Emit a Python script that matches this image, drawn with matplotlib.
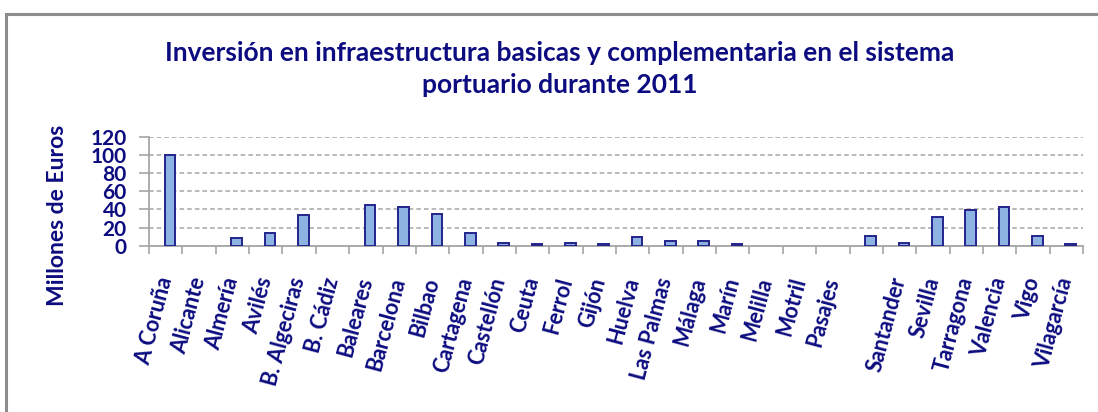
import matplotlib.pyplot as plt
import numpy as np
from matplotlib.patches import Rectangle

puertos = ['A Coruña', 'Alicante', 'Almería', 'Avilés', 'B. Algeciras', 'B. Cádiz',
           'Baleares', 'Barcelona', 'Bilbao', 'Cartagena', 'Castellón', 'Ceuta',
           'Ferrol', 'Gijón', 'Huelva', 'Las Palmas', 'Málaga', 'Marín', 'Melilla',
           'Motril', 'Pasajes', '', 'Santander', 'Sevilla', 'Tarragona', 'Valencia',
           'Vigo', 'Vilagarcía']
inversion = [100, 0, 8.5, 14, 34, 0,
             45, 42.3, 35.2, 14, 2.6, 1.5,
             2.6, 1.5, 10, 5.5, 5.5, 1.5, 0,
             0, 0, 11, 2.6, 31.2, 39.3, 42.3,
             11, 1.5]
y_ticks = [0, 20, 40, 60, 80, 100, 120]

navy = '#0C0C80'
plt.rcParams['font.family'] = ['Lato', 'DejaVu Sans']
plt.rcParams['font.weight'] = 'bold'

fig = plt.figure(figsize=(10.98, 4.12), dpi=100)
fig.patches.append(Rectangle((6 / 1098, -0.1), 1.2, (412 - 14) / 412 + 0.1,
                             transform=fig.transFigure, fill=False,
                             edgecolor='#8C8C8C', linewidth=2.2))

ax = fig.add_axes([149 / 1098, (412 - 245.7) / 412, (1083 - 149) / 1098, 109 / 412])
x = np.arange(len(puertos))
# empty ports get no outline, as in the original
lw = [1.4 if v > 0 else 0 for v in inversion]
ax.bar(x + 0.13, inversion, width=0.32, color='#8DB3E2', edgecolor='#23238C',
       linewidth=lw, zorder=3)

ax.set_xlim(-0.5, len(puertos) - 0.5)
ax.set_ylim(0, 120)
ax.set_yticks(y_ticks)
ax.set_yticklabels([str(v) for v in y_ticks], fontsize=15, color=navy, fontweight='bold')
ax.yaxis.grid(True, linestyle=(0, (3, 2)), color='#A6A6A6', linewidth=1.1, zorder=0)

ax.set_xticks(x)
ax.set_xticklabels(puertos, fontsize=15.5, color=navy, fontweight='bold')
ax.set_xticks(np.arange(len(puertos) + 1) - 0.5, minor=True)
ax.tick_params(axis='x', which='major', length=0, pad=23)
ax.tick_params(axis='x', which='minor', length=6, color='#A6A6A6', width=1.2)
ax.tick_params(axis='y', length=7, color='#A6A6A6', width=1.2, pad=9)
for lab in ax.get_xticklabels():
    lab.set(rotation=75, ha='right', va='center', rotation_mode='anchor')

for s in ['top', 'right']:
    ax.spines[s].set_visible(False)
for s in ['left', 'bottom']:
    ax.spines[s].set_color('#A6A6A6')
    ax.spines[s].set_linewidth(1.3)

fig.text(58 / 1098, 1 - 215 / 412, 'Millones de Euros', rotation=90, ha='center',
         va='center', fontsize=16.5, color=navy, fontweight='bold')
fig.text(560 / 1098, 1 - 69 / 412,
         'Inversión en infraestructura basicas y complementaria en el sistema\nportuario durante 2011',
         ha='center', va='center', fontsize=19, color=navy, fontweight='bold',
         linespacing=1.4)

fig.savefig('out.png', dpi=100)
